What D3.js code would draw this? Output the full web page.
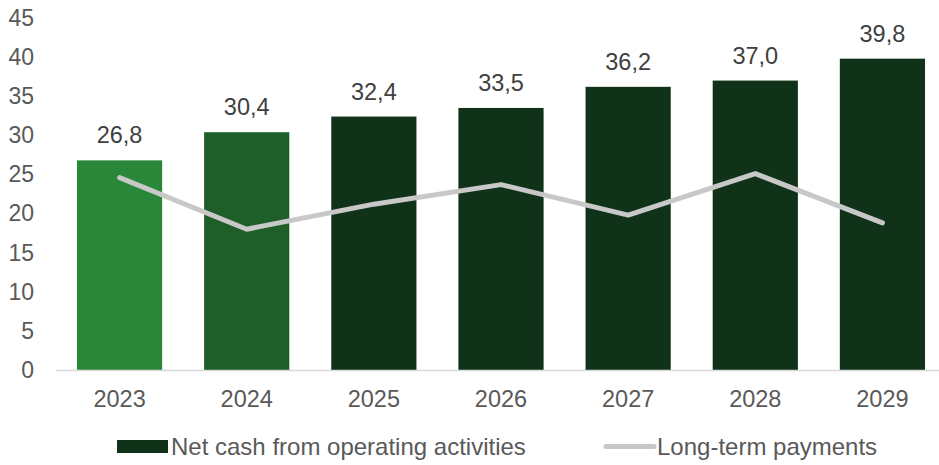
<!DOCTYPE html>
<html>
<head>
<meta charset="utf-8">
<script src="https://cdn.jsdelivr.net/npm/d3@7"></script>
<style>
  html, body { margin: 0; padding: 0; background: #fff; }
  svg { display: block; font-family: "Liberation Sans", Arial, sans-serif; }
</style>
</head>
<body>
<svg id="chart" width="939" height="465"></svg>
<script>
// Chart data
const years = ["2023", "2024", "2025", "2026", "2027", "2028", "2029"];
const netCash = [26.8, 30.4, 32.4, 33.5, 36.2, 37.0, 39.8];
const longTermPayments = [24.6, 18.0, 21.2, 23.7, 19.8, 25.1, 18.8];
const barColors = ["#2a8638", "#1e5e28", "#0f3218", "#0f3218", "#0f3218", "#0f3218", "#0f3218"];
const yTicks = [0, 5, 10, 15, 20, 25, 30, 35, 40, 45];
const seriesNames = ["Net cash from operating activities", "Long-term payments"];

const svg = d3.select("#chart");
const plot = { left: 56, right: 946, top: 18, bottom: 370 };

const x = d3.scaleBand().domain(years).range([plot.left, plot.right]).paddingInner(0.33).paddingOuter(0.165);
const y = d3.scaleLinear().domain([0, 45]).range([plot.bottom, plot.top]);

// Y axis labels (no line, no ticks)
const yAxis = d3.axisLeft(y).tickValues(yTicks).tickSize(0).tickPadding(0).tickFormat(d3.format("d"));
const gy = svg.append("g").attr("transform", "translate(34,0)").call(yAxis);
gy.select(".domain").remove();
gy.selectAll("text").attr("fill", "#595959").style("font-size", "23px").style("font-family", "Liberation Sans, Arial, sans-serif");

// Bars
svg.append("g").selectAll("rect").data(years).join("rect")
  .attr("x", d => x(d))
  .attr("y", (d, i) => y(netCash[i]))
  .attr("width", x.bandwidth())
  .attr("height", (d, i) => y(0) - y(netCash[i]))
  .attr("fill", (d, i) => barColors[i]);

// Category axis
const xAxis = d3.axisBottom(x).tickSize(0).tickPadding(20);
const gx = svg.append("g").attr("transform", `translate(0,${y(0)})`).call(xAxis);
gx.select(".domain").remove();
gx.append("line").attr("x1", plot.left).attr("x2", 939).attr("y1", 0.5).attr("y2", 0.5)
  .attr("stroke", "#d9d9d9").attr("stroke-width", 1.5);
gx.selectAll("text").attr("fill", "#595959").style("font-size", "23.5px").style("font-family", "Liberation Sans, Arial, sans-serif");

// Value labels above bars
svg.append("g").selectAll("text").data(years).join("text")
  .attr("x", d => x(d) + x.bandwidth() / 2)
  .attr("y", (d, i) => y(netCash[i]) - 17)
  .attr("text-anchor", "middle")
  .attr("fill", "#404040")
  .style("font-size", "23.5px")
  .text((d, i) => netCash[i].toFixed(1).replace(".", ","));

// Long-term payments line
const line = d3.line()
  .x((d, i) => x(years[i]) + x.bandwidth() / 2)
  .y(d => y(d));
svg.append("path").datum(longTermPayments)
  .attr("d", line)
  .attr("fill", "none")
  .attr("stroke", "#c8c8c8")
  .attr("stroke-width", 5)
  .attr("stroke-linejoin", "round")
  .attr("stroke-linecap", "round");

// Legend
const legend = svg.append("g").style("font-size", "24px").attr("fill", "#595959");
legend.append("rect").attr("x", 117).attr("y", 440).attr("width", 51).attr("height", 13).attr("fill", "#0f3218");
legend.append("text").attr("x", 171).attr("y", 455).text(seriesNames[0]);
legend.append("line").attr("x1", 606).attr("x2", 654).attr("y1", 446.5).attr("y2", 446.5)
  .attr("stroke", "#c8c8c8").attr("stroke-width", 5).attr("stroke-linecap", "round");
legend.append("text").attr("x", 657).attr("y", 455).text(seriesNames[1]);
</script>
</body>
</html>
